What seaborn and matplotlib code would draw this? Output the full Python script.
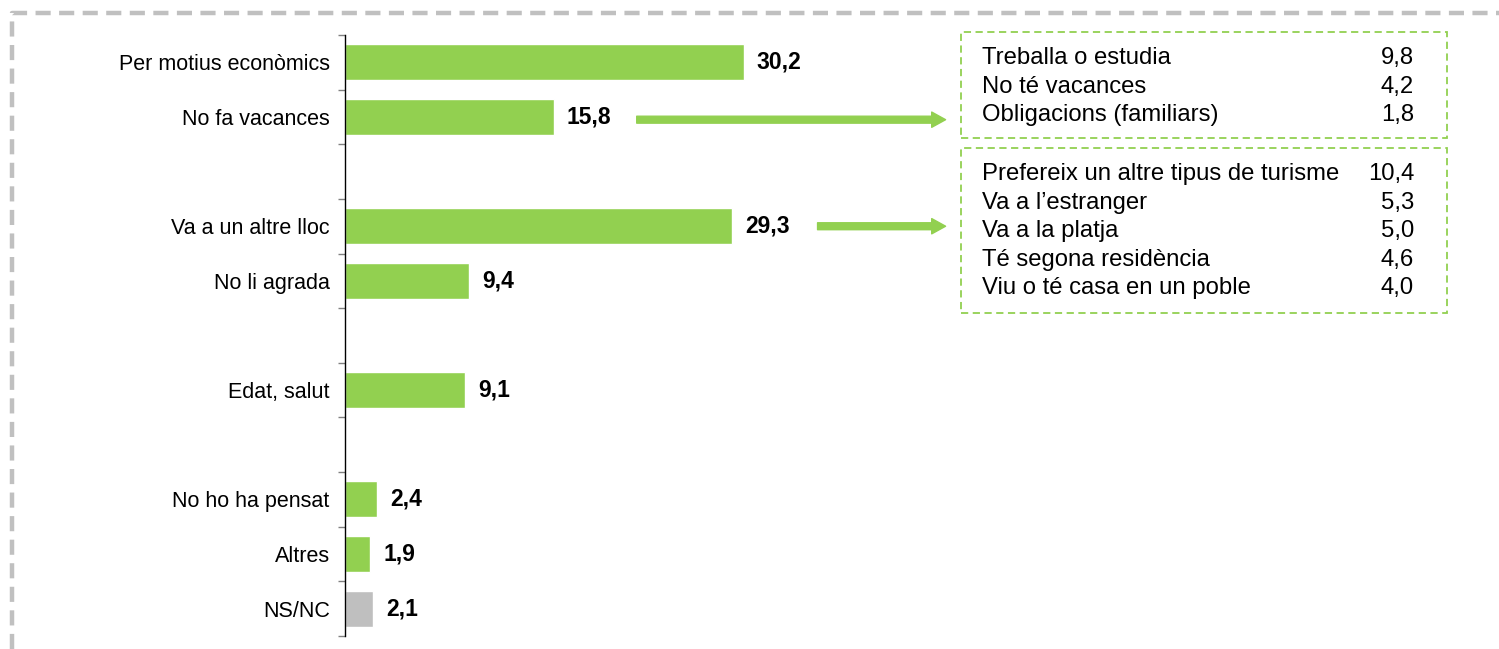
import matplotlib
matplotlib.use("Agg")
import matplotlib.pyplot as plt
from matplotlib.patches import Rectangle
from matplotlib.lines import Line2D
import numpy as np
import pandas as pd
import seaborn as sns

# main bars (blank slots are spacing rows)
categories = ["Per motius econòmics", "No fa vacances", " ",
              "Va a un altre lloc", "No li agrada", "  ",
              "Edat, salut", "   ",
              "No ho ha pensat", "Altres", "NS/NC"]
values = [30.2, 15.8, np.nan, 29.3, 9.4, np.nan, 9.1, np.nan, 2.4, 1.9, 2.1]

# breakdown boxes
sub1_labels = ["Treballa o estudia", "No té vacances", "Obligacions (familiars)"]
sub1_values = [9.8, 4.2, 1.8]
sub2_labels = ["Prefereix un altre tipus de turisme", "Va a l\u2019estranger",
               "Va a la platja", "Té segona residència", "Viu o té casa en un poble"]
sub2_values = [10.4, 5.3, 5.0, 4.6, 4.0]

green = "#92D050"
grey = "#BFBFBF"

sns.set_style("white")
plt.rcParams["font.family"] = ["Liberation Sans", "DejaVu Sans"]
plt.rcParams["text.color"] = "black"
plt.rcParams["ytick.color"] = "black"

df = pd.DataFrame({"cat": categories, "val": values})
colors = {c: (grey if c == "NS/NC" else green) for c in categories}

W, H = 1499, 649
fig = plt.figure(figsize=(W / 100, H / 100), dpi=100)
ax = fig.add_axes([345 / W, 13 / H, 1100 / W, 601 / H])

sns.barplot(data=df.dropna(), x="val", y="cat", hue="cat", order=categories,
            palette=colors, width=0.66, legend=False, saturation=1, ax=ax)

def fmt(v):
    return f"{v:.1f}".replace(".", ",")

for i, v in enumerate(values):
    if not np.isnan(v):
        ax.text(v + 1.0, i, fmt(v), va="center", ha="left",
                fontsize=16.5, fontweight="bold", color="black")

ax.set_xlim(0, 1100 / 13.2)
ax.set_ylim(len(categories) - 0.5, -0.5)
ax.set_xlabel("")
ax.set_ylabel("")
ax.set_xticks([])
ax.set_yticks(range(len(categories)))
ax.set_yticklabels(categories, fontsize=15.5, color="black")
ax.tick_params(axis="y", which="major", left=False, length=0, pad=11)
ax.set_yticks(np.arange(-0.5, len(categories), 1), minor=True)
ax.tick_params(axis="y", which="minor", left=True, length=5, width=1,
               color="#808080")
for s in ["top", "right", "bottom"]:
    ax.spines[s].set_visible(False)
ax.spines["left"].set_color("black")
ax.spines["left"].set_linewidth(1)

# arrows to breakdown boxes
arrow_kw = dict(arrowprops=dict(facecolor=green, edgecolor=green, width=5,
                                headwidth=11, headlength=10, shrink=0))
ax.annotate("", xy=(45.5, 1.05), xytext=(22.1, 1.05), **arrow_kw)
ax.annotate("", xy=(45.5, 3), xytext=(35.8, 3), **arrow_kw)

def fx(px):
    return px / W

def fy(py):
    return 1 - py / H

def draw_box(top, bottom, labels, vals, first_row):
    fig.patches.append(Rectangle((fx(961), fy(bottom)), fx(1447) - fx(961),
                                 fy(top) - fy(bottom), transform=fig.transFigure,
                                 fill=False, edgecolor=green, linewidth=1.3,
                                 linestyle=(0, (4, 2.5))))
    for k, (lab, v) in enumerate(zip(labels, vals)):
        y = fy(first_row + k * 28.6)
        fig.text(fx(982), y, lab, fontsize=17.2, va="center", ha="left")
        fig.text(fx(1414), y, fmt(v), fontsize=17.2, va="center", ha="right")

draw_box(32, 138, sub1_labels, sub1_values, 58)
draw_box(148, 313, sub2_labels, sub2_values, 174)

# outer dashed frame
frame_kw = dict(transform=fig.transFigure, color="#C0C0C0", linewidth=3.2,
                linestyle=(0, (3.4, 1.9)))
fig.lines.append(Line2D([fx(12), fx(12), 1], [0, fy(13), fy(13)], **frame_kw))

fig.savefig("out.png", dpi=100)
